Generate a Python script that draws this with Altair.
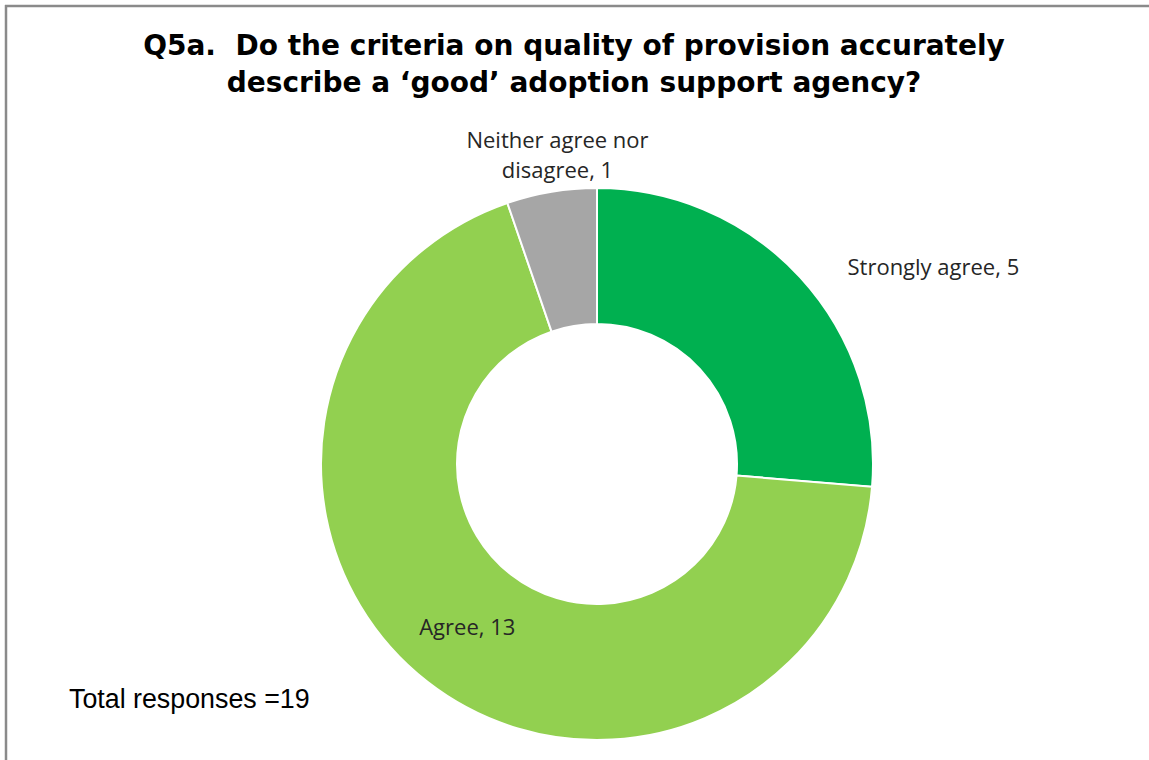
import altair as alt
import pandas as pd

categories = ["Strongly agree", "Agree", "Neither agree nor disagree"]
values = [5, 13, 1]
label_texts = ["Strongly agree, 5", "Agree, 13", "Neither agree nor\ndisagree, 1"]
colors = ["#00B050", "#92D050", "#A6A6A6"]
title_lines = [
    "Q5a.\u00a0 Do the criteria on quality of provision accurately",
    "describe a \u2018good\u2019 adoption support agency?",
]
total_text = "Total responses =" + str(sum(values))

df = pd.DataFrame({
    "category": categories,
    "value": values,
    "label": label_texts,
    "idx": list(range(len(categories))),
})

W, H = 1149, 760
CX, CY = 597, 464
R_OUT, R_IN = 276, 140
LABEL_FONT = "Open Sans"

color_scale = alt.Scale(domain=categories, range=colors)

base = alt.Chart(df)

arcs = base.mark_arc(innerRadius=R_IN, outerRadius=R_OUT, stroke="white", strokeWidth=2).encode(
    theta=alt.Theta("value:Q", stack=True),
    order=alt.Order("idx:Q"),
    color=alt.Color("category:N", scale=color_scale, legend=None),
    x=alt.value(CX),
    y=alt.value(CY),
)

# label positions from the stacked angles
lab_base = base.transform_window(
    cum="sum(value)", sort=[alt.SortField("idx")], frame=[None, 0]
).transform_joinaggregate(
    total="sum(value)"
).transform_calculate(
    mid="(datum.cum - datum.value/2) / datum.total * 2 * PI"
)

def label_layer(cat, radius, dx=0, dy=0):
    return lab_base.transform_filter(alt.datum.category == cat).mark_text(
        radius=radius, dx=dx, dy=dy, font=LABEL_FONT, fontSize=22, color="#262626",
        align="center", baseline="middle", lineBreak="\n", lineHeight=30,
    ).encode(
        theta=alt.Theta("mid:Q", scale=None),
        text="label:N",
        x=alt.value(CX),
        y=alt.value(CY),
    )

lab_strong = label_layer("Strongly agree", 290, dx=123)
lab_agree = label_layer("Agree", 208, dx=-2)
lab_neither = label_layer("Neither agree nor disagree", 313, dx=12, dy=-14)

one = alt.Chart(alt.Data(values=[{}]))

title = one.mark_text(
    text=title_lines, font="DejaVu Sans", fontWeight="bold", fontSize=28,
    color="#000000", align="center", baseline="alphabetic", lineHeight=37,
).encode(x=alt.value(574), y=alt.value(55))

total = one.mark_text(
    text=total_text, font="Liberation Sans", fontSize=26.8, color="#000000",
    align="left", baseline="alphabetic",
).encode(x=alt.value(69), y=alt.value(708))

border_top = one.mark_rule(color="#8a8a8a", strokeWidth=2.5).encode(
    x=alt.value(5), x2=alt.value(W), y=alt.value(6)
)
border_left = one.mark_rule(color="#8a8a8a", strokeWidth=2.5).encode(
    x=alt.value(6), y=alt.value(5), y2=alt.value(H)
)

chart = alt.layer(
    border_top, border_left, arcs, lab_strong, lab_agree, lab_neither, title, total
).properties(
    width=W, height=H, autosize=alt.AutoSizeParams(type="none"), padding=0,
    background="white",
).configure_view(stroke=None)

chart.save("out.html", embed_options={"renderer": "svg", "actions": False})
